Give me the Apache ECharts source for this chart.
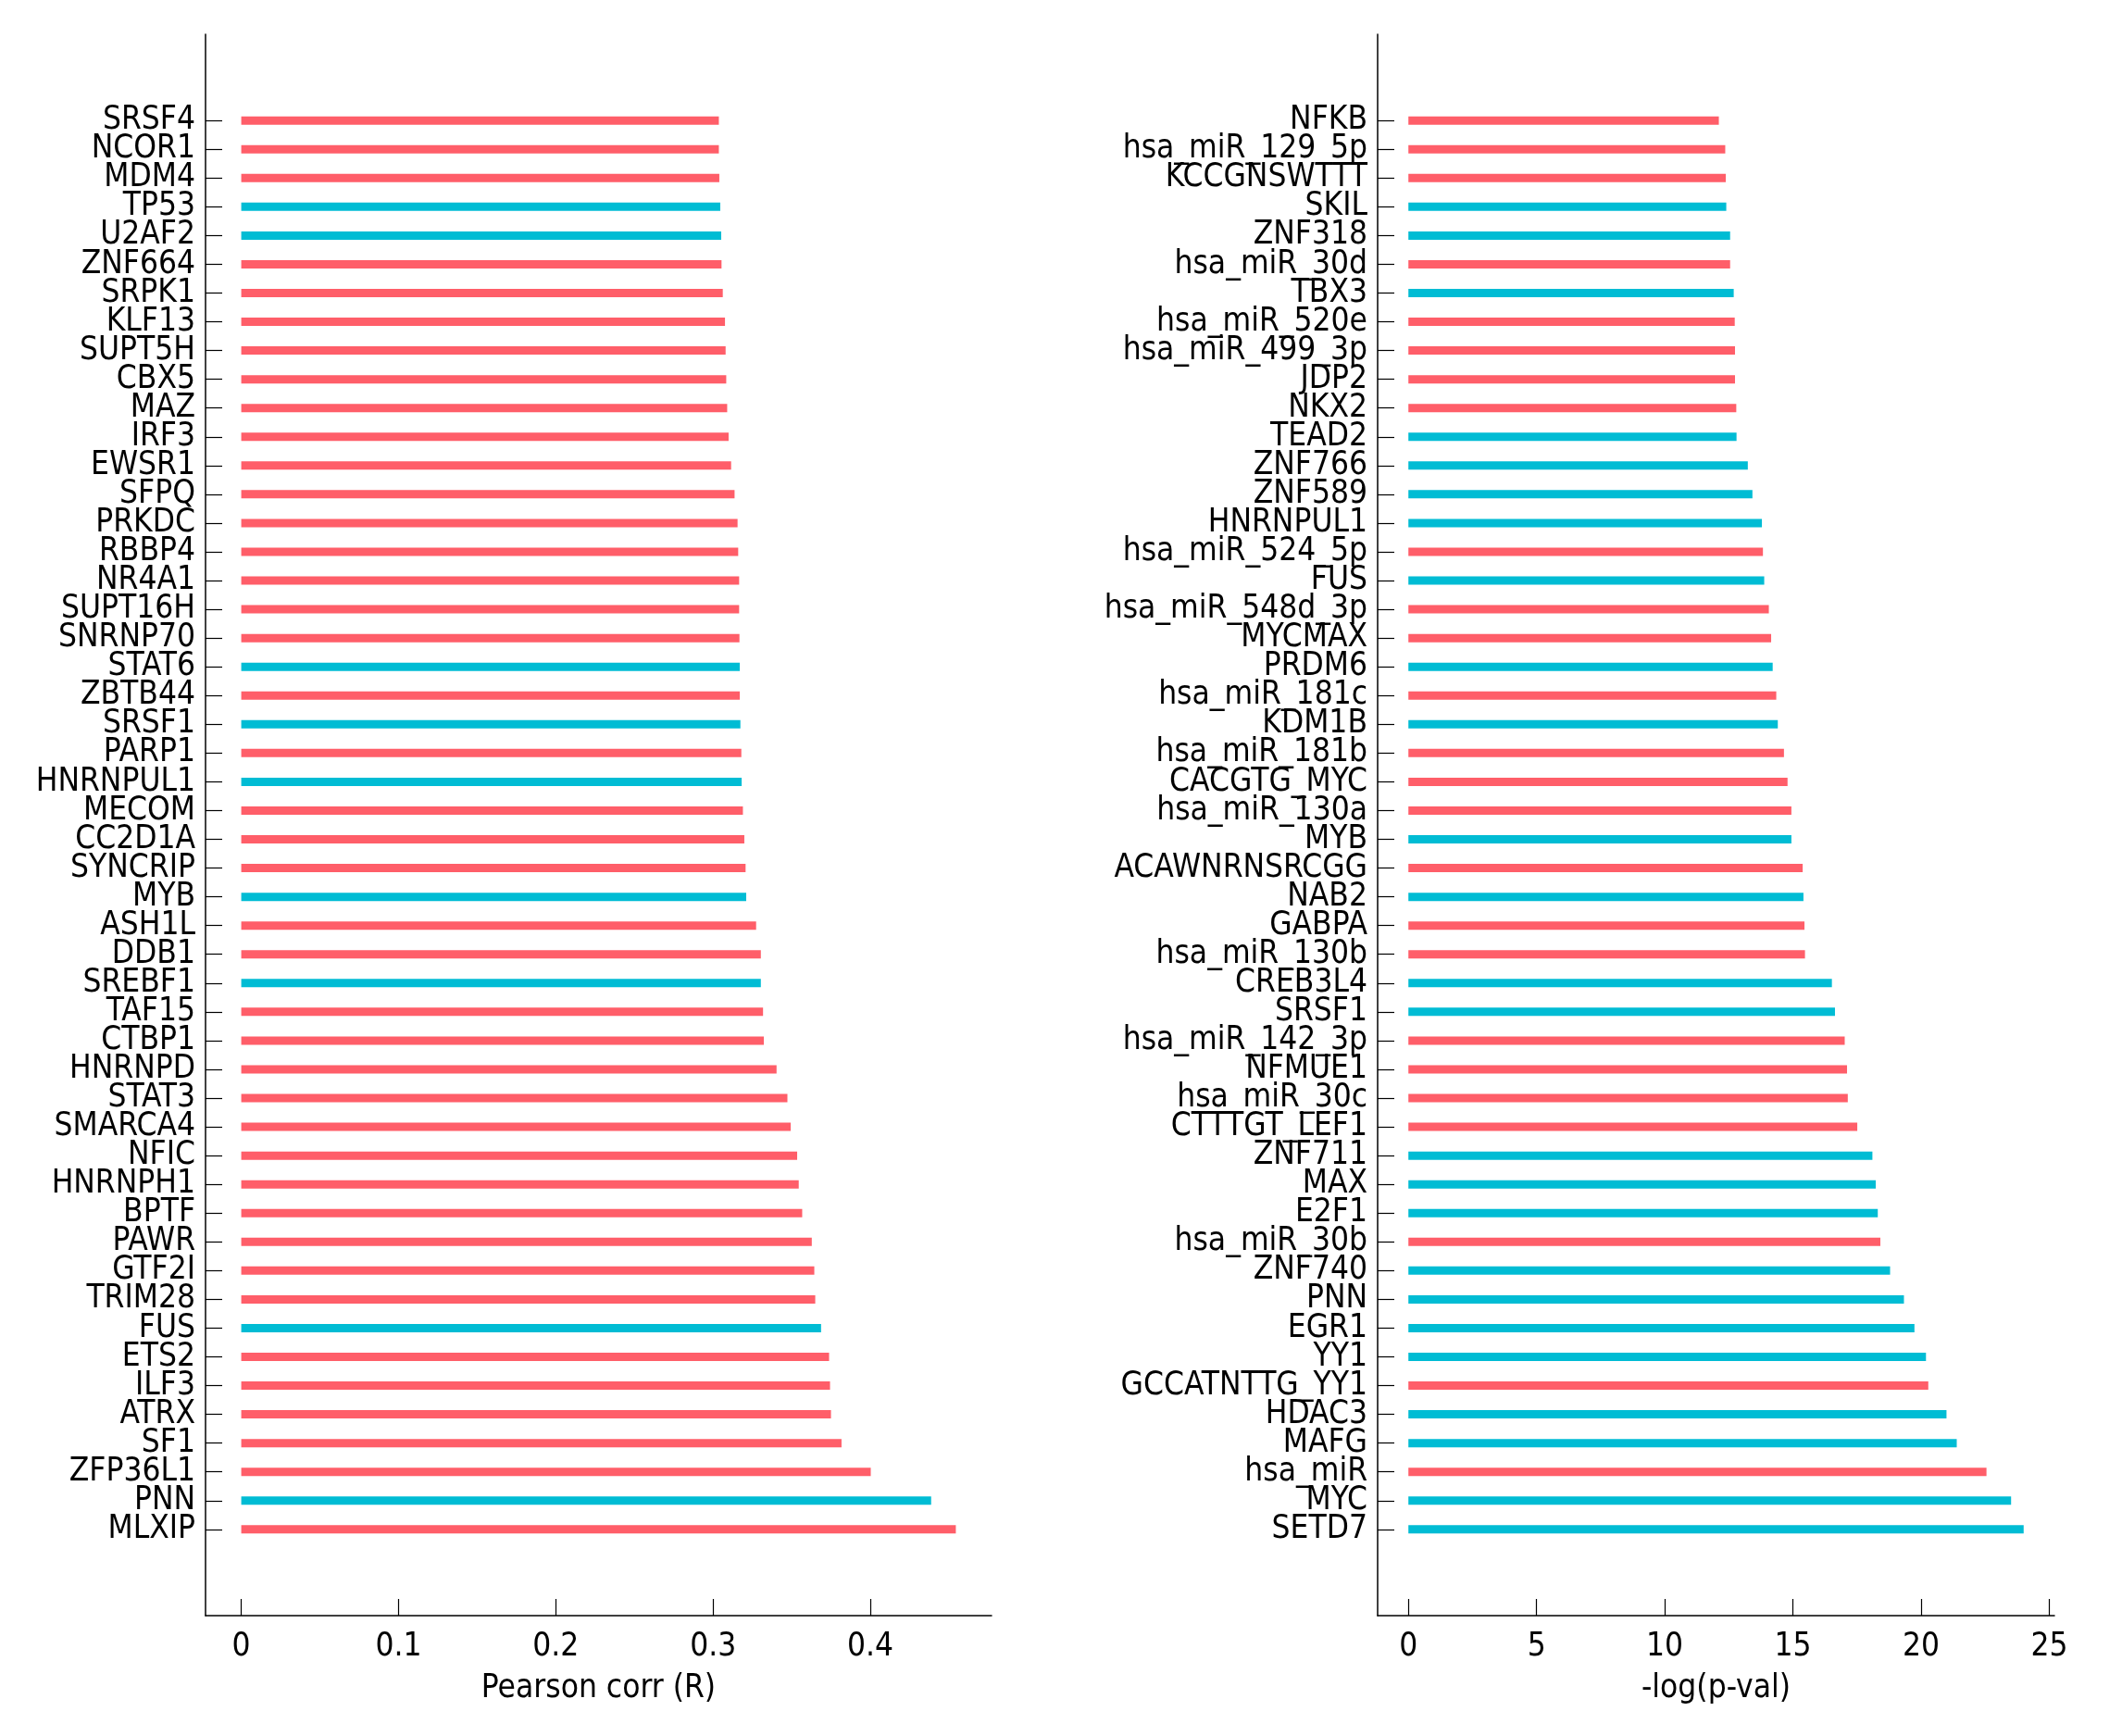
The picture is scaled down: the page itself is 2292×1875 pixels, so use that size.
<!DOCTYPE html>
<html><head><meta charset="utf-8">
<script src="https://cdn.jsdelivr.net/npm/echarts@6/dist/echarts.min.js"></script>
<style>html,body{margin:0;padding:0;background:#fff}#c{width:2292px;height:1875px}</style>
</head><body><div id="c"></div>
<script>
// ---- data (top to bottom as drawn) ----
const leftNames = ['SRSF4','NCOR1','MDM4','TP53','U2AF2','ZNF664','SRPK1','KLF13','SUPT5H','CBX5','MAZ','IRF3','EWSR1','SFPQ','PRKDC','RBBP4','NR4A1','SUPT16H','SNRNP70','STAT6','ZBTB44','SRSF1','PARP1','HNRNPUL1','MECOM','CC2D1A','SYNCRIP','MYB','ASH1L','DDB1','SREBF1','TAF15','CTBP1','HNRNPD','STAT3','SMARCA4','NFIC','HNRNPH1','BPTF','PAWR','GTF2I','TRIM28','FUS','ETS2','ILF3','ATRX','SF1','ZFP36L1','PNN','MLXIP'];
const leftValues = [0.3037,0.3037,0.3040,0.3046,0.3052,0.3054,0.3062,0.3076,0.3080,0.3084,0.3090,0.3099,0.3115,0.3137,0.3156,0.3160,0.3166,0.3166,0.3168,0.3170,0.3170,0.3174,0.3180,0.3182,0.3190,0.3199,0.3207,0.3211,0.3274,0.3304,0.3304,0.3318,0.3323,0.3404,0.3473,0.3494,0.3535,0.3545,0.3567,0.3628,0.3644,0.3650,0.3687,0.3738,0.3744,0.3750,0.3817,0.4003,0.4387,0.4544];
const leftKinds = [0,0,0,1,1,0,0,0,0,0,0,0,0,0,0,0,0,0,0,1,0,1,0,1,0,0,0,1,0,0,1,0,0,0,0,0,0,0,0,0,0,0,1,0,0,0,0,0,1,0];
const rightNames = ['NFKB','hsa_miR_129_5p','KCCGNSWTTT','SKIL','ZNF318','hsa_miR_30d','TBX3','hsa_miR_520e','hsa_miR_499_3p','JDP2','NKX2','TEAD2','ZNF766','ZNF589','HNRNPUL1','hsa_miR_524_5p','FUS','hsa_miR_548d_3p','MYCMAX','PRDM6','hsa_miR_181c','KDM1B','hsa_miR_181b','CACGTG_MYC','hsa_miR_130a','MYB','ACAWNRNSRCGG','NAB2','GABPA','hsa_miR_130b','CREB3L4','SRSF1','hsa_miR_142_3p','NFMUE1','hsa_miR_30c','CTTTGT_LEF1','ZNF711','MAX','E2F1','hsa_miR_30b','ZNF740','PNN','EGR1','YY1','GCCATNTTG_YY1','HDAC3','MAFG','hsa_miR','MYC','SETD7'];
const rightValues = [12.11,12.36,12.38,12.40,12.55,12.55,12.69,12.73,12.74,12.74,12.79,12.80,13.24,13.42,13.79,13.83,13.88,14.06,14.15,14.21,14.35,14.41,14.65,14.79,14.94,14.94,15.38,15.41,15.45,15.47,16.52,16.64,17.02,17.11,17.14,17.51,18.10,18.23,18.31,18.41,18.79,19.33,19.74,20.19,20.28,20.99,21.39,22.55,23.51,24.00];
const rightKinds = [0,0,0,1,1,0,1,0,0,0,0,1,1,1,1,0,1,0,0,1,0,1,0,0,0,1,0,1,0,0,1,1,0,0,0,0,1,1,1,0,1,1,1,1,0,1,1,0,1,1];
const leftTicks = [0, 0.1, 0.2, 0.3, 0.4];
const rightTicks = [0, 5, 10, 15, 20, 25];
const leftTitle = 'Pearson corr (R)';
const rightTitle = '-log(p-val)';

// ---- styling ----
const RED = '#ff5e69', CYAN = '#00bcd4';
const FONT = '"DejaVu Sans Condensed", "DejaVu Sans", sans-serif';
const FS = 35;
const PAD = 3;

function padded(names) {
  const out = [];
  for (let i = 0; i < PAD; i++) out.push('');
  names.forEach(n => out.push(n));
  for (let i = 0; i < PAD; i++) out.push('');
  return out;
}
function xAxisFor(gridIndex, values, ticks, title) {
  const mx = Math.max.apply(null, values);
  return {
    type: 'value', gridIndex: gridIndex,
    min: -0.05 * mx, max: 1.05 * mx,
    name: title, nameLocation: 'middle', nameGap: 61,
    nameTextStyle: {fontFamily: FONT, fontSize: FS, color: '#000'},
    axisLine: {show: true, onZero: false, lineStyle: {color: '#000', width: 1.5}},
    axisTick: {show: true, inside: true, length: 18, customValues: ticks, lineStyle: {color: '#000', width: 1.2}},
    axisLabel: {show: true, customValues: ticks, margin: 16, fontFamily: FONT, fontSize: FS, color: '#000',
      formatter: v => String(Math.round(v * 1000) / 1000)},
    splitLine: {show: false}
  };
}
function yAxisFor(gridIndex, names) {
  const n = names.length;
  return {
    type: 'category', gridIndex: gridIndex, inverse: true, boundaryGap: false,
    data: padded(names),
    axisLine: {show: true, onZero: false, lineStyle: {color: '#000', width: 1.5}},
    axisTick: {show: true, inside: true, length: 18, lineStyle: {color: '#000', width: 1.2},
      interval: (idx) => idx >= PAD && idx < PAD + n},
    axisLabel: {show: true, interval: 0, margin: 11, fontFamily: FONT, fontSize: FS, color: '#000',
      padding: [3, 0, 0, 0]},
    splitLine: {show: false}
  };
}
function seriesFor(idx, values, kinds) {
  return {
    type: 'bar', xAxisIndex: idx, yAxisIndex: idx, barWidth: 9,
    data: values.map((v, i) => ({value: [v, i + PAD], itemStyle: {color: kinds[i] ? CYAN : RED}})),
    encode: {x: 0, y: 1}
  };
}

const chart = echarts.init(document.getElementById('c'), null, {renderer: 'canvas'});
chart.setOption({
  animation: false,
  backgroundColor: '#fff',
  grid: [
    {left: 222, right: 2292 - 1071, top: 37, bottom: 1875 - 1745, containLabel: false},
    {left: 1488, right: 2292 - 2219, top: 37, bottom: 1875 - 1745, containLabel: false}
  ],
  xAxis: [xAxisFor(0, leftValues, leftTicks, leftTitle), xAxisFor(1, rightValues, rightTicks, rightTitle)],
  yAxis: [yAxisFor(0, leftNames), yAxisFor(1, rightNames)],
  series: [seriesFor(0, leftValues, leftKinds), seriesFor(1, rightValues, rightKinds)]
});
</script></body></html>
